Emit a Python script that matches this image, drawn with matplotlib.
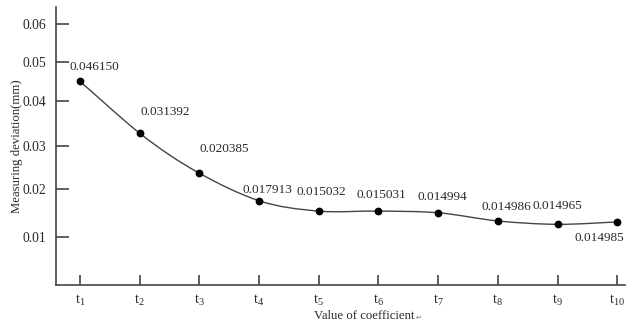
import numpy as np
import matplotlib
matplotlib.use("Agg")
import matplotlib.pyplot as plt
from matplotlib.path import Path
from matplotlib.patches import PathPatch

plt.rcParams['font.family'] = ['Liberation Serif', 'DejaVu Sans']
plt.rcParams['mathtext.fontset'] = 'custom'
plt.rcParams['mathtext.rm'] = 'Liberation Serif'
plt.rcParams['mathtext.it'] = 'Liberation Serif:italic'

# ---- data ----
x_idx = list(range(1, 11))
tick_labels = [r'$\mathrm{t_{%d}}$' % i for i in x_idx]
values = [0.0451, 0.0328, 0.0236, 0.0175, 0.01535, 0.01535, 0.0150, 0.0133, 0.0126, 0.0131]
point_labels = ['0.046150', '0.031392', '0.020385', '0.017913', '0.015032',
                '0.015031', '0.014994', '0.014986', '0.014965', '0.014985']
label_offsets = [(14, 14), (26, 21), (25, 24), (8, 11), (3, 19),
                 (3, 16), (4, 16), (9, 14), (0, 18), (-18, -16)]
y_ticks = [0.01, 0.02, 0.03, 0.04, 0.05, 0.06]

# piecewise scale reproducing the uneven tick spacing of the original
knot_vals = np.array([0.0, 0.01, 0.02, 0.03, 0.04, 0.05, 0.06, 0.08])
knot_pos = np.array([0, 48, 96, 139, 183, 222, 260, 336], dtype=float)

def fwd(v):
    return np.interp(v, knot_vals, knot_pos)

def inv(p):
    return np.interp(p, knot_pos, knot_vals)

fig = plt.figure(figsize=(6.35, 3.25), dpi=100)
ax = fig.add_axes([56/635, 40/325, (625-56)/635, (285-7)/325])
ax.set_yscale('function', functions=(fwd, inv))
ax.set_ylim(0, 0.0645)
ax.set_xlim(0.6, 10.13)

line_col = '#444444'
txt_col = '#2a2a2a'

# smooth curve (Catmull-Rom -> cubic Bezier) through the points
xs = np.array(x_idx, dtype=float)
ys = np.array(values)
verts = [(xs[0], ys[0])]
codes = [Path.MOVETO]
n = len(xs)
for i in range(n - 1):
    p0 = (xs[max(i-1, 0)], ys[max(i-1, 0)])
    p1 = (xs[i], ys[i])
    p2 = (xs[i+1], ys[i+1])
    p3 = (xs[min(i+2, n-1)], ys[min(i+2, n-1)])
    c1 = (p1[0] + (p2[0]-p0[0])/6, p1[1] + (p2[1]-p0[1])/6)
    c2 = (p2[0] - (p3[0]-p1[0])/6, p2[1] - (p3[1]-p1[1])/6)
    verts += [c1, c2, p2]
    codes += [Path.CURVE4]*3
ax.add_patch(PathPatch(Path(verts, codes), facecolor='none', edgecolor=line_col, lw=1.0))

ax.plot(xs, ys, 'o', color='black', markersize=4.6, zorder=3)

for xi, yi, lab, off in zip(xs, ys, point_labels, label_offsets):
    ax.annotate(lab, (xi, yi), xytext=off, textcoords='offset pixels',
                ha='center', va='center', fontsize=9.5, color=txt_col)

for s in ['top', 'right']:
    ax.spines[s].set_visible(False)
for s in ['left', 'bottom']:
    ax.spines[s].set_color('#444444')
    ax.spines[s].set_linewidth(1.2)

ax.set_yticks(y_ticks)
ax.set_yticklabels(['%.2f' % t for t in y_ticks])
ax.yaxis.set_minor_locator(plt.NullLocator())
ax.set_xticks(x_idx)
ax.set_xticklabels(tick_labels)
ax.tick_params(axis='y', direction='in', length=9, width=1.2, color='#444444',
               labelsize=9.8, pad=7, labelcolor=txt_col)
ax.tick_params(axis='x', direction='in', length=7, width=1.2, color='#444444',
               labelsize=10.5, pad=6, labelcolor=txt_col)

fig.text(364/635, 1 - 316/325, 'Value of coefficient', ha='center', va='center',
         fontsize=9.2, color=txt_col)
fig.text(419/635, 1 - 318/325, '\u21b5', ha='center', va='center',
         fontsize=5, color='#777777', family=['DejaVu Sans'])
fig.text(17/635, 1 - 146/325, 'Measuring deviation(mm)', ha='center', va='center',
         rotation=90, fontsize=9.2, color=txt_col)

fig.savefig('out.png', dpi=100)
